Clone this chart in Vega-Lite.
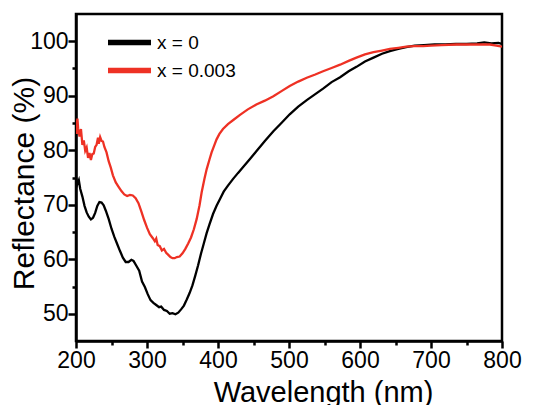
{
  "$schema": "https://vega.github.io/schema/vega-lite/v6.json",
  "width": 426,
  "height": 327,
  "autosize": "none",
  "padding": {"left": 76, "top": 14, "right": 40, "bottom": 64},
  "background": "white",
  "config": {
    "view": {"stroke": "black", "strokeWidth": 2.5},
    "font": "Liberation Sans",
    "axis": {
      "grid": false,
      "domainColor": "black",
      "domainWidth": 2.5,
      "tickColor": "black",
      "tickWidth": 2.5,
      "labelColor": "black",
      "labelFont": "Liberation Sans",
      "labelFontSize": 23,
      "titleFont": "Liberation Sans",
      "titleFontWeight": "normal",
      "titleColor": "black"
    }
  },
  "datasets": {
    "spectra": [
      {"wl": 200, "R": 75.0, "s": "x = 0"}, {"wl": 202, "R": 73.8, "s": "x = 0"}, {"wl": 204, "R": 74.5, "s": "x = 0"}, {"wl": 206, "R": 72.9, "s": "x = 0"}, {"wl": 209, "R": 71.5, "s": "x = 0"}, {"wl": 212, "R": 69.8, "s": "x = 0"}, {"wl": 215, "R": 68.6, "s": "x = 0"}, {"wl": 218, "R": 67.8, "s": "x = 0"}, {"wl": 221, "R": 67.3, "s": "x = 0"}, {"wl": 224, "R": 67.6, "s": "x = 0"}, {"wl": 227, "R": 68.5, "s": "x = 0"}, {"wl": 230, "R": 69.8, "s": "x = 0"}, {"wl": 233, "R": 70.5, "s": "x = 0"}, {"wl": 236, "R": 70.4, "s": "x = 0"}, {"wl": 239, "R": 69.9, "s": "x = 0"}, {"wl": 242, "R": 68.9, "s": "x = 0"}, {"wl": 246, "R": 67.4, "s": "x = 0"}, {"wl": 250, "R": 65.6, "s": "x = 0"}, {"wl": 254, "R": 64.1, "s": "x = 0"}, {"wl": 258, "R": 62.8, "s": "x = 0"}, {"wl": 262, "R": 61.5, "s": "x = 0"}, {"wl": 266, "R": 60.3, "s": "x = 0"}, {"wl": 270, "R": 59.5, "s": "x = 0"}, {"wl": 274, "R": 59.5, "s": "x = 0"}, {"wl": 278, "R": 59.9, "s": "x = 0"}, {"wl": 281, "R": 59.7, "s": "x = 0"}, {"wl": 285, "R": 58.8, "s": "x = 0"}, {"wl": 289, "R": 57.9, "s": "x = 0"}, {"wl": 293, "R": 55.9, "s": "x = 0"}, {"wl": 297, "R": 54.9, "s": "x = 0"}, {"wl": 301, "R": 53.6, "s": "x = 0"}, {"wl": 305, "R": 52.5, "s": "x = 0"}, {"wl": 309, "R": 52.0, "s": "x = 0"}, {"wl": 313, "R": 51.6, "s": "x = 0"}, {"wl": 317, "R": 51.2, "s": "x = 0"}, {"wl": 320, "R": 51.3, "s": "x = 0"}, {"wl": 324, "R": 50.7, "s": "x = 0"}, {"wl": 328, "R": 50.5, "s": "x = 0"}, {"wl": 332, "R": 50.0, "s": "x = 0"}, {"wl": 336, "R": 50.1, "s": "x = 0"}, {"wl": 340, "R": 49.9, "s": "x = 0"}, {"wl": 344, "R": 50.2, "s": "x = 0"}, {"wl": 348, "R": 50.8, "s": "x = 0"}, {"wl": 352, "R": 51.5, "s": "x = 0"}, {"wl": 356, "R": 52.6, "s": "x = 0"}, {"wl": 360, "R": 53.8, "s": "x = 0"}, {"wl": 364, "R": 55.2, "s": "x = 0"}, {"wl": 368, "R": 57.0, "s": "x = 0"}, {"wl": 372, "R": 58.9, "s": "x = 0"}, {"wl": 376, "R": 61.0, "s": "x = 0"}, {"wl": 380, "R": 62.9, "s": "x = 0"}, {"wl": 384, "R": 64.8, "s": "x = 0"}, {"wl": 388, "R": 66.4, "s": "x = 0"}, {"wl": 393, "R": 68.3, "s": "x = 0"}, {"wl": 398, "R": 69.8, "s": "x = 0"}, {"wl": 403, "R": 71.1, "s": "x = 0"}, {"wl": 408, "R": 72.4, "s": "x = 0"}, {"wl": 414, "R": 73.5, "s": "x = 0"}, {"wl": 421, "R": 74.7, "s": "x = 0"}, {"wl": 428, "R": 75.8, "s": "x = 0"}, {"wl": 436, "R": 77.0, "s": "x = 0"}, {"wl": 445, "R": 78.4, "s": "x = 0"}, {"wl": 454, "R": 79.8, "s": "x = 0"}, {"wl": 466, "R": 81.7, "s": "x = 0"}, {"wl": 478, "R": 83.5, "s": "x = 0"}, {"wl": 490, "R": 85.1, "s": "x = 0"}, {"wl": 501, "R": 86.6, "s": "x = 0"}, {"wl": 513, "R": 88.0, "s": "x = 0"}, {"wl": 525, "R": 89.2, "s": "x = 0"}, {"wl": 537, "R": 90.3, "s": "x = 0"}, {"wl": 548, "R": 91.3, "s": "x = 0"}, {"wl": 560, "R": 92.5, "s": "x = 0"}, {"wl": 572, "R": 93.4, "s": "x = 0"}, {"wl": 584, "R": 94.5, "s": "x = 0"}, {"wl": 595, "R": 95.3, "s": "x = 0"}, {"wl": 607, "R": 96.3, "s": "x = 0"}, {"wl": 619, "R": 97.0, "s": "x = 0"}, {"wl": 631, "R": 97.7, "s": "x = 0"}, {"wl": 642, "R": 98.2, "s": "x = 0"}, {"wl": 654, "R": 98.6, "s": "x = 0"}, {"wl": 665, "R": 98.9, "s": "x = 0"}, {"wl": 677, "R": 99.2, "s": "x = 0"}, {"wl": 690, "R": 99.3, "s": "x = 0"}, {"wl": 705, "R": 99.4, "s": "x = 0"}, {"wl": 720, "R": 99.4, "s": "x = 0"}, {"wl": 735, "R": 99.5, "s": "x = 0"}, {"wl": 750, "R": 99.5, "s": "x = 0"}, {"wl": 765, "R": 99.6, "s": "x = 0"}, {"wl": 775, "R": 99.8, "s": "x = 0"}, {"wl": 785, "R": 99.6, "s": "x = 0"}, {"wl": 795, "R": 99.7, "s": "x = 0"}, {"wl": 800, "R": 99.5, "s": "x = 0"},
      {"wl": 200, "R": 85.5, "s": "x = 0.003"}, {"wl": 201, "R": 83.0, "s": "x = 0.003"}, {"wl": 202, "R": 85.8, "s": "x = 0.003"}, {"wl": 203, "R": 84.0, "s": "x = 0.003"}, {"wl": 205, "R": 82.5, "s": "x = 0.003"}, {"wl": 207, "R": 83.9, "s": "x = 0.003"}, {"wl": 209, "R": 81.0, "s": "x = 0.003"}, {"wl": 211, "R": 81.8, "s": "x = 0.003"}, {"wl": 213, "R": 79.9, "s": "x = 0.003"}, {"wl": 215, "R": 80.5, "s": "x = 0.003"}, {"wl": 217, "R": 78.6, "s": "x = 0.003"}, {"wl": 219, "R": 79.5, "s": "x = 0.003"}, {"wl": 221, "R": 78.2, "s": "x = 0.003"}, {"wl": 223, "R": 79.3, "s": "x = 0.003"}, {"wl": 225, "R": 79.4, "s": "x = 0.003"}, {"wl": 227, "R": 80.6, "s": "x = 0.003"}, {"wl": 229, "R": 81.0, "s": "x = 0.003"}, {"wl": 231, "R": 82.3, "s": "x = 0.003"}, {"wl": 232, "R": 81.2, "s": "x = 0.003"}, {"wl": 234, "R": 82.4, "s": "x = 0.003"}, {"wl": 236, "R": 81.7, "s": "x = 0.003"}, {"wl": 238, "R": 81.6, "s": "x = 0.003"}, {"wl": 240, "R": 80.6, "s": "x = 0.003"}, {"wl": 243, "R": 79.6, "s": "x = 0.003"}, {"wl": 246, "R": 78.0, "s": "x = 0.003"}, {"wl": 249, "R": 76.8, "s": "x = 0.003"}, {"wl": 252, "R": 75.4, "s": "x = 0.003"}, {"wl": 256, "R": 74.1, "s": "x = 0.003"}, {"wl": 260, "R": 73.3, "s": "x = 0.003"}, {"wl": 264, "R": 72.5, "s": "x = 0.003"}, {"wl": 268, "R": 71.9, "s": "x = 0.003"}, {"wl": 272, "R": 71.6, "s": "x = 0.003"}, {"wl": 276, "R": 71.8, "s": "x = 0.003"}, {"wl": 280, "R": 71.7, "s": "x = 0.003"}, {"wl": 284, "R": 71.2, "s": "x = 0.003"}, {"wl": 288, "R": 70.3, "s": "x = 0.003"}, {"wl": 292, "R": 68.8, "s": "x = 0.003"}, {"wl": 296, "R": 67.2, "s": "x = 0.003"}, {"wl": 300, "R": 65.8, "s": "x = 0.003"}, {"wl": 304, "R": 64.6, "s": "x = 0.003"}, {"wl": 308, "R": 63.9, "s": "x = 0.003"}, {"wl": 311, "R": 63.3, "s": "x = 0.003"}, {"wl": 313, "R": 63.8, "s": "x = 0.003"}, {"wl": 315, "R": 62.6, "s": "x = 0.003"}, {"wl": 318, "R": 62.4, "s": "x = 0.003"}, {"wl": 321, "R": 61.6, "s": "x = 0.003"}, {"wl": 324, "R": 61.9, "s": "x = 0.003"}, {"wl": 327, "R": 61.2, "s": "x = 0.003"}, {"wl": 330, "R": 60.8, "s": "x = 0.003"}, {"wl": 333, "R": 60.4, "s": "x = 0.003"}, {"wl": 336, "R": 60.2, "s": "x = 0.003"}, {"wl": 339, "R": 60.2, "s": "x = 0.003"}, {"wl": 342, "R": 60.4, "s": "x = 0.003"}, {"wl": 346, "R": 60.5, "s": "x = 0.003"}, {"wl": 350, "R": 61.1, "s": "x = 0.003"}, {"wl": 354, "R": 61.9, "s": "x = 0.003"}, {"wl": 358, "R": 62.9, "s": "x = 0.003"}, {"wl": 362, "R": 64.0, "s": "x = 0.003"}, {"wl": 366, "R": 65.5, "s": "x = 0.003"}, {"wl": 370, "R": 67.4, "s": "x = 0.003"}, {"wl": 374, "R": 69.9, "s": "x = 0.003"}, {"wl": 377, "R": 72.3, "s": "x = 0.003"}, {"wl": 381, "R": 74.8, "s": "x = 0.003"}, {"wl": 384, "R": 76.5, "s": "x = 0.003"}, {"wl": 388, "R": 78.3, "s": "x = 0.003"}, {"wl": 391, "R": 79.6, "s": "x = 0.003"}, {"wl": 395, "R": 81.0, "s": "x = 0.003"}, {"wl": 398, "R": 82.0, "s": "x = 0.003"}, {"wl": 402, "R": 83.0, "s": "x = 0.003"}, {"wl": 407, "R": 83.9, "s": "x = 0.003"}, {"wl": 414, "R": 84.8, "s": "x = 0.003"}, {"wl": 422, "R": 85.6, "s": "x = 0.003"}, {"wl": 431, "R": 86.5, "s": "x = 0.003"}, {"wl": 442, "R": 87.5, "s": "x = 0.003"}, {"wl": 454, "R": 88.4, "s": "x = 0.003"}, {"wl": 466, "R": 89.1, "s": "x = 0.003"}, {"wl": 478, "R": 89.9, "s": "x = 0.003"}, {"wl": 490, "R": 90.9, "s": "x = 0.003"}, {"wl": 501, "R": 91.8, "s": "x = 0.003"}, {"wl": 513, "R": 92.6, "s": "x = 0.003"}, {"wl": 525, "R": 93.3, "s": "x = 0.003"}, {"wl": 537, "R": 93.9, "s": "x = 0.003"}, {"wl": 548, "R": 94.5, "s": "x = 0.003"}, {"wl": 560, "R": 95.1, "s": "x = 0.003"}, {"wl": 572, "R": 95.7, "s": "x = 0.003"}, {"wl": 584, "R": 96.4, "s": "x = 0.003"}, {"wl": 595, "R": 97.0, "s": "x = 0.003"}, {"wl": 607, "R": 97.6, "s": "x = 0.003"}, {"wl": 619, "R": 98.0, "s": "x = 0.003"}, {"wl": 631, "R": 98.3, "s": "x = 0.003"}, {"wl": 642, "R": 98.6, "s": "x = 0.003"}, {"wl": 654, "R": 98.8, "s": "x = 0.003"}, {"wl": 665, "R": 99.0, "s": "x = 0.003"}, {"wl": 677, "R": 99.1, "s": "x = 0.003"}, {"wl": 689, "R": 99.1, "s": "x = 0.003"}, {"wl": 700, "R": 99.2, "s": "x = 0.003"}, {"wl": 715, "R": 99.3, "s": "x = 0.003"}, {"wl": 736, "R": 99.4, "s": "x = 0.003"}, {"wl": 760, "R": 99.4, "s": "x = 0.003"}, {"wl": 783, "R": 99.4, "s": "x = 0.003"}, {"wl": 792, "R": 99.2, "s": "x = 0.003"}, {"wl": 800, "R": 99.0, "s": "x = 0.003"}
    ]
  },
  "data": {"name": "spectra"},
  "resolve": {"axis": {"x": "independent", "y": "independent"}},
  "layer": [
    {
      "mark": {"type": "line", "strokeWidth": 2.3, "clip": true},
      "encoding": {
        "x": {
          "field": "wl", "type": "quantitative",
          "scale": {"domain": [200, 800], "nice": false, "zero": false},
          "axis": {"orient": "bottom", "values": [200, 300, 400, 500, 600, 700, 800], "tickSize": 7, "labelPadding": 1, "labelFlush": false, "labelOverlap": false, "title": "Wavelength (nm)", "titleFontSize": 29, "titleX": 247, "titleY": 37, "titleAnchor": "middle"}
        },
        "y": {
          "field": "R", "type": "quantitative",
          "scale": {"domain": [45, 105], "nice": false, "zero": false},
          "axis": {"orient": "left", "values": [50, 60, 70, 80, 90, 100], "tickSize": 8, "labelPadding": 0, "labelFlush": false, "labelOverlap": false, "title": "Reflectance (%)", "titleFontSize": 30, "titleX": -37, "titleY": 169, "titleAnchor": "middle"}
        },
        "color": {
          "field": "s", "type": "nominal",
          "scale": {"domain": ["x = 0", "x = 0.003"], "range": ["#000000", "#EE3124"]},
          "legend": {
            "orient": "none", "legendX": 40, "legendY": 15, "title": null,
            "symbolType": "M-2,0H2", "symbolSize": 462, "symbolStrokeWidth": 5.5,
            "labelFontSize": 19, "labelFont": "Liberation Sans", "labelColor": "black", "labelOffset": 14, "rowPadding": 3
          }
        }
      }
    },
    {
      "mark": {"type": "line", "strokeOpacity": 0},
      "encoding": {
        "x": {
          "field": "wl", "type": "quantitative",
          "axis": {"orient": "bottom", "values": [250, 350, 450, 550, 650, 750], "tickSize": 4, "labels": false, "domain": false, "title": null}
        },
        "y": {
          "field": "R", "type": "quantitative",
          "axis": {"orient": "left", "values": [55, 65, 75, 85, 95], "tickSize": 4, "labels": false, "domain": false, "title": null}
        },
        "detail": {"field": "s", "type": "nominal"}
      }
    }
  ]
}
